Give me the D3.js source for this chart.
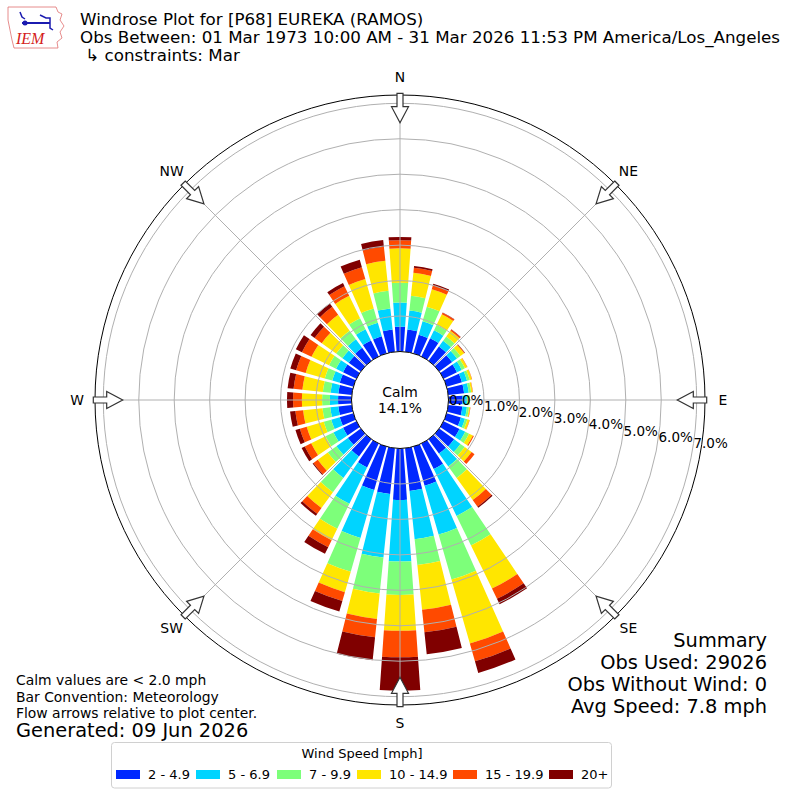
<!DOCTYPE html>
<html>
<head>
<meta charset="utf-8">
<script src="https://cdn.jsdelivr.net/npm/d3@7"></script>
<style>
  body { margin: 0; background: #fff; }
  svg { font-family: "DejaVu Sans", sans-serif; }
</style>
</head>
<body>
<div id="chart"></div>
<script>
// wind direction bins (degrees, meteorological)
const directions = d3.range(0, 360, 10)

const speedBins = ["2 - 4.9", "5 - 6.9", "7 - 9.9", "10 - 14.9", "15 - 19.9", "20+"]

// frequency (%) per direction for each speed bin
const speed2to5 = [0.70,0.63,0.55,0.57,0.50,0.45,0.42,0.45,0.45,0.40,0.40,0.42,0.50,0.52,0.50,0.80,1.15,1.21,
                   1.45,1.30,1.27,0.75,0.60,0.45,0.42,0.40,0.38,0.38,0.38,0.40,0.42,0.42,0.45,0.50,0.50,0.63]
const speed5to7 = [0.68,0.54,0.39,0.25,0.20,0.17,0.15,0.15,0.13,0.12,0.13,0.12,0.18,0.22,0.45,1.47,1.43,1.37,
                   1.74,1.80,1.41,1.14,0.75,0.40,0.30,0.25,0.23,0.23,0.22,0.22,0.22,0.22,0.30,0.35,0.40,0.60]
const speed7to10 = [0.56,0.42,0.43,0.17,0.15,0.12,0.10,0.08,0.07,0.05,0.06,0.07,0.12,0.15,0.40,0.93,1.32,0.73,
                    0.94,1.02,0.99,0.78,0.50,0.30,0.25,0.22,0.22,0.22,0.22,0.22,0.22,0.22,0.30,0.35,0.42,0.50]
const speed10to15 = [0.97,0.65,0.51,0.33,0.20,0.13,0.07,0.06,0.04,0.03,0.03,0.06,0.12,0.24,0.77,1.35,1.88,1.27,
                     1.01,0.72,0.60,0.36,0.55,0.35,0.45,0.50,0.55,0.57,0.58,0.56,0.55,0.50,0.55,0.70,0.86,0.85]
const speed15to20 = [0.23,0.14,0.11,0.05,0.04,0.02,0.01,0.01,0.01,0.00,0.01,0.01,0.03,0.10,0.23,0.32,0.52,0.64,
                     0.75,0.52,0.26,0.22,0.20,0.15,0.20,0.20,0.22,0.25,0.25,0.28,0.30,0.25,0.28,0.30,0.35,0.40]
const speed20up = [0.09,0.05,0.05,0.01,0.01,0.01,0.00,0.00,0.00,0.00,0.00,0.00,0.00,0.00,0.04,0.17,0.34,0.62,
                   0.94,0.65,0.31,0.21,0.07,0.03,0.10,0.13,0.15,0.17,0.17,0.17,0.19,0.14,0.12,0.10,0.22,0.19]

const rTicks = [0, 1, 2, 3, 4, 5, 6, 7]
const compass = ["N", "NE", "E", "SE", "S", "SW", "W", "NW"]
const calmPct = 14.1

const titleLines = [
  "Windrose Plot for [P68] EUREKA (RAMOS)",
  "Obs Between: 01 Mar 1973 10:00 AM - 31 Mar 2026 11:53 PM America/Los_Angeles",
  " \u21b3 constraints: Mar"
]
const noteLines = ["Calm values are < 2.0 mph", "Bar Convention: Meteorology", "Flow arrows relative to plot center."]
const summaryLines = ["Summary", "Obs Used: 29026", "Obs Without Wind: 0", "Avg Speed: 7.8 mph"]

const width = 800, height = 800
const cx = 400, cy = 400
const outerR = 305
const toRad = Math.PI / 180

const series = [speed2to5, speed5to7, speed7to10, speed10to15, speed15to20, speed20up]
const table = directions.map((d, i) => {
  const row = {dir: d}
  speedBins.forEach((b, j) => { row[b] = series[j][i] })
  return row
})

const color = d3.scaleOrdinal()
  .domain(speedBins)
  .range(["#0028ff", "#00d4ff", "#7dff7a", "#ffe600", "#ff4a00", "#800000"])

const r = d3.scaleLinear().domain([0, 7]).range([48.5, 296.7])

const svg = d3.select("#chart").append("svg")
  .attr("width", width)
  .attr("height", height)

// Title block
svg.append("g").selectAll("text")
  .data(titleLines)
  .enter().append("text")
  .attr("x", 80)
  .attr("y", (d, i) => 25 + i * 18)
  .attr("font-size", 16.7)
  .attr("fill", "#000")
  .style("white-space", "pre")
  .text(d => d)

// IEM logo (rough)
const logo = svg.append("g").attr("class", "logo")
logo.append("path")
  .attr("d", "M8,7 L56,7 L58,12 L62,14 L60,20 L64,26 L60,32 L62,38 L57,42 L58,48 L14,48 L12,40 L10,30 L8,20 Z")
  .attr("fill", "none").attr("stroke", "#e07070").attr("stroke-width", 0.8)
logo.append("line").attr("x1", 22).attr("y1", 23).attr("x2", 50).attr("y2", 23)
  .attr("stroke", "#1b1bb0").attr("stroke-width", 2)
logo.append("circle").attr("cx", 25).attr("cy", 23).attr("r", 2.5).attr("fill", "#1b1bb0")
logo.append("path").attr("d", "M20,12 L22,17 L25,19").attr("fill", "none").attr("stroke", "#1b1bb0").attr("stroke-width", 1.5)
logo.append("path").attr("d", "M40,15 L46,18 L50,18 L50,28 L53,30").attr("fill", "none").attr("stroke", "#1b1bb0").attr("stroke-width", 1.5)
logo.append("text").attr("x", 16).attr("y", 44)
  .attr("font-family", "Liberation Serif, serif").attr("font-style", "italic")
  .attr("font-size", 16).attr("fill", "#d42020").text("IEM")

const plot = svg.append("g").attr("transform", `translate(${cx},${cy})`)

// Bars
const stacked = d3.stack().keys(speedBins)(table)
const arc = d3.arc()
  .innerRadius(d => r(d[0]))
  .outerRadius(d => r(d[1]))
  .startAngle(d => (d.data.dir - 4) * toRad)
  .endAngle(d => (d.data.dir + 4) * toRad)

plot.append("g").attr("class", "bars")
  .selectAll("g")
  .data(stacked)
  .enter().append("g")
  .attr("fill", d => color(d.key))
  .selectAll("path")
  .data(d => d.filter(s => s[1] - s[0] > 0))
  .enter().append("path")
  .attr("d", arc)

// Grid rings
plot.append("g").attr("class", "rings")
  .selectAll("circle")
  .data(rTicks.slice(1))
  .enter().append("circle")
  .attr("r", d => r(d))
  .attr("fill", "none")
  .attr("stroke", "#b0b0b0")
  .attr("stroke-width", 1)

// Radial spokes
plot.append("g").attr("class", "spokes")
  .selectAll("line")
  .data(compass)
  .enter().append("line")
  .attr("x1", (d, i) => r(0) * Math.sin(i * 45 * toRad))
  .attr("y1", (d, i) => -r(0) * Math.cos(i * 45 * toRad))
  .attr("x2", (d, i) => outerR * Math.sin(i * 45 * toRad))
  .attr("y2", (d, i) => -outerR * Math.cos(i * 45 * toRad))
  .attr("stroke", "#b0b0b0")
  .attr("stroke-width", 1)

// Outer circle
plot.append("circle").attr("r", outerR)
  .attr("fill", "none").attr("stroke", "#000").attr("stroke-width", 1)

// Calm circle
plot.append("circle").attr("r", r(0))
  .attr("fill", "#fff").attr("stroke", "#000").attr("stroke-width", 1)
plot.append("text").attr("text-anchor", "middle").attr("y", -3)
  .attr("font-size", 13.9).text("Calm")
plot.append("text").attr("text-anchor", "middle").attr("y", 13)
  .attr("font-size", 13.9).text(calmPct.toFixed(1) + "%")

// Ring labels, set along a line 10 degrees below east
const labAng = 10 * toRad
plot.append("g").attr("class", "rlabels")
  .selectAll("text")
  .data(rTicks)
  .enter().append("text")
  .attr("x", d => r(0) + 0.5 + (r(d) - r(0)) * Math.cos(labAng))
  .attr("y", d => (r(d) - r(0)) * Math.sin(labAng))
  .attr("dy", "0.35em")
  .attr("font-size", 13.5)
  .text(d => d.toFixed(1) + "%")

// Flow arrows
const arrowPts = [[-3, -306.7], [3, -306.7], [3, -293.3], [8.5, -293.3], [0, -277.3], [-8.5, -293.3], [-3, -293.3]]
plot.append("g").attr("class", "arrows")
  .selectAll("polygon")
  .data(compass)
  .enter().append("polygon")
  .attr("points", arrowPts.map(p => p.join(",")).join(" "))
  .attr("transform", (d, i) => `rotate(${i * 45})`)
  .attr("fill", "#fff")
  .attr("stroke", "#333")
  .attr("stroke-width", 1.2)

// Compass labels
plot.append("g").attr("class", "compass")
  .selectAll("text")
  .data(compass)
  .enter().append("text")
  .attr("x", (d, i) => 323 * Math.sin(i * 45 * toRad))
  .attr("y", (d, i) => -323 * Math.cos(i * 45 * toRad))
  .attr("dy", "0.35em")
  .attr("text-anchor", "middle")
  .attr("font-size", 13.9)
  .text(d => d)

// Notes bottom-left
svg.append("g").selectAll("text")
  .data(noteLines)
  .enter().append("text")
  .attr("x", 16)
  .attr("y", (d, i) => 685 + i * 16.5)
  .attr("font-size", 13.9)
  .text(d => d)
svg.append("text").attr("x", 16).attr("y", 737)
  .attr("font-size", 19.4).text("Generated: 09 Jun 2026")

// Summary bottom-right
svg.append("g").selectAll("text")
  .data(summaryLines)
  .enter().append("text")
  .attr("x", 767)
  .attr("y", (d, i) => 647 + i * 22)
  .attr("text-anchor", "end")
  .attr("font-size", 19.4)
  .text(d => d)

// Legend
const legend = svg.append("g").attr("class", "legend")
legend.append("rect")
  .attr("x", 111.5).attr("y", 742.5).attr("width", 500).attr("height", 45.5)
  .attr("rx", 3).attr("fill", "#fff").attr("stroke", "#d0d0d0")
legend.append("text").attr("x", 362).attr("y", 758)
  .attr("text-anchor", "middle").attr("font-size", 13).text("Wind Speed [mph]")
const itemX = [116, 196, 277, 357, 453, 549]
const items = legend.selectAll("g.item")
  .data(speedBins)
  .enter().append("g")
  .attr("class", "item")
  .attr("transform", (d, i) => `translate(${itemX[i]},0)`)
items.append("rect")
  .attr("y", 770).attr("width", 24).attr("height", 9)
  .attr("fill", d => color(d))
items.append("text")
  .attr("x", 32).attr("y", 779)
  .attr("font-size", 13)
  .text(d => d)
</script>
</body>
</html>
